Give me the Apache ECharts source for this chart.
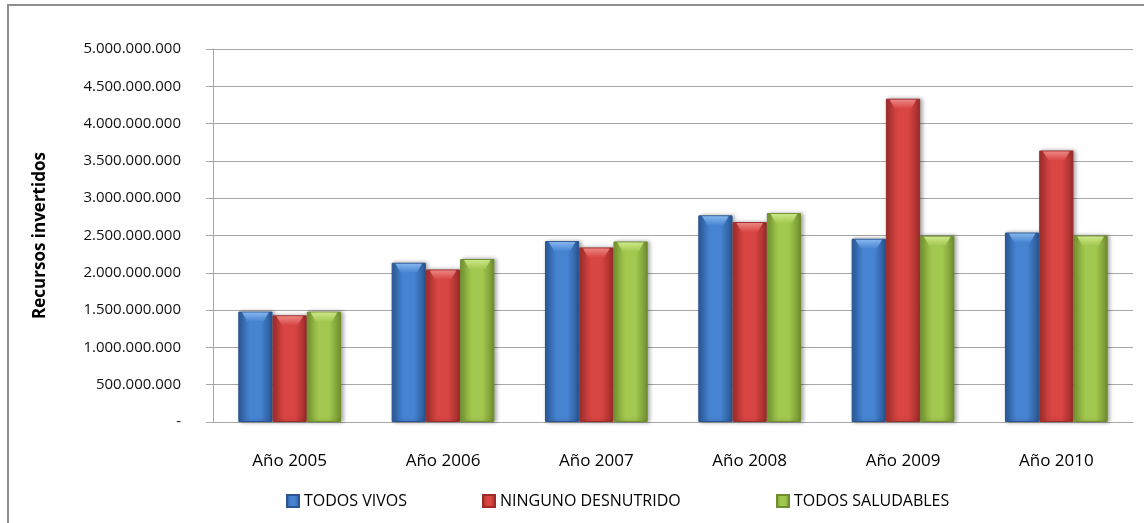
<!DOCTYPE html>
<html>
<head>
<meta charset="utf-8">
<script src="https://cdn.jsdelivr.net/npm/echarts@6/dist/echarts.min.js"></script>
<style>
    html, body { margin: 0; padding: 0; background: #fff; overflow: hidden; }
    #frame { position: absolute; left: 7px; top: 4px; width: 1300px; height: 700px; border: 2px solid #8d8d8d; box-sizing: border-box; }
    #chart { position: absolute; left: 0; top: 0; width: 1144px; height: 523px; }
</style>
</head>
<body>
<div id="frame"></div>
<div id="chart"></div>
<script>
// datos
const years = ['Año 2005', 'Año 2006', 'Año 2007', 'Año 2008', 'Año 2009', 'Año 2010'];
const todosVivos = [1480000000, 2135000000, 2425000000, 2770000000, 2457000000, 2540000000];
const ningunoDesnutrido = [1430000000, 2045000000, 2340000000, 2680000000, 4334000000, 3640000000];
const todosSaludables = [1480000000, 2185000000, 2420000000, 2800000000, 2497000000, 2500000000];
const seriesNames = ['TODOS VIVOS', 'NINGUNO DESNUTRIDO', 'TODOS SALUDABLES'];

// colores de cada serie: borde, centro, borde oscuro, brillo superior
const palette = [
    ['#2b5c9c', '#4684d2', '#2a5592', '#8dbcf2'],
    ['#a32f2d', '#d84542', '#9c2c2a', '#f08e8b'],
    ['#789a33', '#a3c84f', '#6f8e2f', '#d2ec8e']
];
// posicion x de cada leyenda
const legendLeft = [286, 482, 776];

function barColor(c) {
    return new echarts.graphic.LinearGradient(0, 0, 1, 0, [
        { offset: 0, color: c[0] },
        { offset: 0.35, color: c[1] },
        { offset: 0.65, color: c[1] },
        { offset: 1, color: c[2] }
    ]);
}

function fmt(v) {
    if (v === 0) return '-';
    return String(v).replace(/\B(?=(\d{3})+(?!\d))/g, '.');
}

const font = 'Open Sans';
const myChart = echarts.init(document.getElementById('chart'));

const dataList = [todosVivos, ningunoDesnutrido, todosSaludables];
const series = dataList.map(function (d, i) {
    return {
        name: seriesNames[i],
        type: 'bar',
        barGap: '0%',
        barCategoryGap: '33%',
        data: d,
        itemStyle: {
            color: barColor(palette[i]),
            borderColor: palette[i][2],
            borderWidth: 1,
            shadowColor: 'rgba(0,0,0,0.35)',
            shadowBlur: 4,
            shadowOffsetX: 2,
            shadowOffsetY: 0
        },
        emphasis: { disabled: true }
    };
});

// brillo en la parte alta de cada barra
dataList.forEach(function (d, i) {
    series.push({
        name: seriesNames[i] + '_top',
        type: 'pictorialBar',
        barGap: '0%',
        barCategoryGap: '33%',
        data: d,
        symbol: 'path://M0,0 L20,0 L16,5 L4,5 Z',
        symbolSize: ['78%', 9],
        symbolPosition: 'end',
        symbolOffset: [0, 1],
        z: 3,
        silent: true,
        itemStyle: {
            color: new echarts.graphic.LinearGradient(0, 0, 0, 1, [
                { offset: 0, color: palette[i][3] },
                { offset: 1, color: palette[i][1] }
            ]),
            opacity: 0.9
        }
    });
});

const legends = seriesNames.map(function (n, i) {
    return {
        left: legendLeft[i],
        top: 493,
        padding: 0,
        itemWidth: 12,
        itemHeight: 12,
        icon: 'rect',
        selectedMode: false,
        textStyle: { fontFamily: font, fontSize: 16, color: '#000' },
        data: [n]
    };
});

const option = {
    animation: false,
    grid: { left: 213, right: 11, top: 49, bottom: 101, containLabel: false },
    legend: legends,
    xAxis: {
        type: 'category',
        data: years,
        axisLine: { lineStyle: { color: '#a6a6a6', width: 1 } },
        axisTick: { show: false },
        axisLabel: { fontFamily: font, fontSize: 17, color: '#000', margin: 31 }
    },
    yAxis: {
        type: 'value',
        min: 0,
        max: 5000000000,
        interval: 500000000,
        name: 'Recursos invertidos',
        nameLocation: 'middle',
        nameGap: 164,
        nameRotate: 90,
        nameTextStyle: { fontFamily: font, fontSize: 17, fontWeight: 'bold', color: '#000' },
        axisLine: { show: true, lineStyle: { color: '#a6a6a6', width: 1 } },
        axisTick: { show: true, length: 7, lineStyle: { color: '#a6a6a6' } },
        axisLabel: { fontFamily: font, fontSize: 15, color: '#111', margin: 32, formatter: fmt },
        splitLine: { lineStyle: { color: '#a6a6a6', width: 1 } }
    },
    series: series
};

myChart.setOption(option);
</script>
</body>
</html>
